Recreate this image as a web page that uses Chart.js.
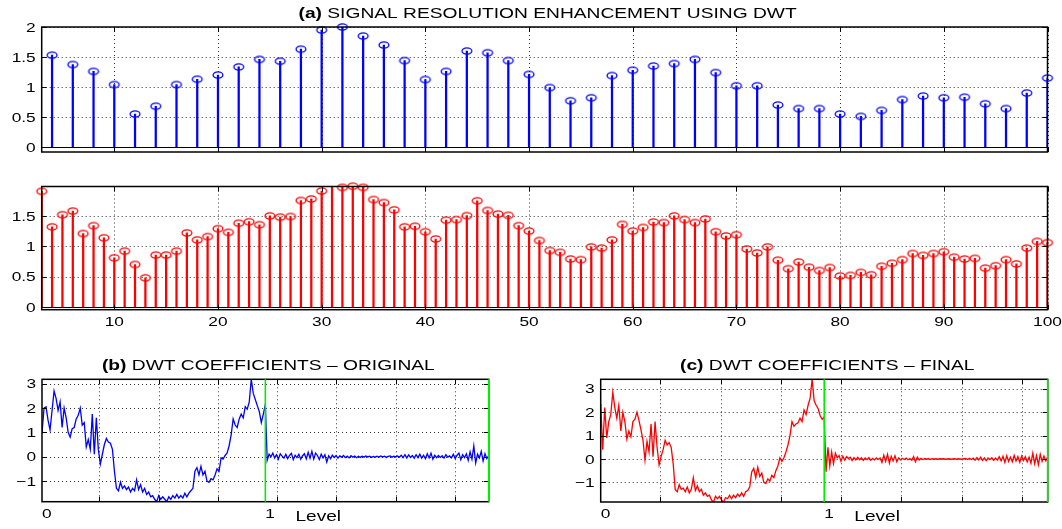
<!DOCTYPE html>
<html>
<head>
<meta charset="utf-8">
<script src="https://cdn.jsdelivr.net/npm/chart.js@4.4.1/dist/chart.umd.min.js"></script>
<style>
  html, body { margin: 0; padding: 0; background: #fff; }
  #wrap { position: relative; width: 1062px; height: 529px; }
  #wrap canvas { position: absolute; left: 0; top: 0; }
</style>
</head>
<body>
<div id="wrap">
  <canvas id="cA" width="1062" height="529"></canvas>
  <canvas id="cB" width="1062" height="529"></canvas>
  <canvas id="cC" width="1062" height="529"></canvas>
  <canvas id="cD" width="1062" height="529"></canvas>
</div>
<script>
// ---- data ----
const blueStart = 4, blueStep = 2;   // original samples at 4, 6, ... 100
const blueY = [1.53, 1.375, 1.26, 1.04, 0.55, 0.68, 1.04, 1.13, 1.2, 1.335,
  1.46, 1.43, 1.63, 1.95, 2.0, 1.85, 1.7, 1.44, 1.125, 1.26,
  1.6, 1.57, 1.44, 1.21, 0.99, 0.77, 0.82, 1.19, 1.28, 1.35,
  1.39, 1.46, 1.24, 1.02, 1.02, 0.7, 0.64, 0.64, 0.55, 0.51,
  0.61, 0.79, 0.85, 0.82, 0.83, 0.72, 0.64, 0.9, 1.15];

const redStart = 3;                  // enhanced samples at 3, 4, ... 100
const redY = [1.905, 1.32, 1.52, 1.58, 1.21, 1.34, 1.14, 0.81, 0.92, 0.70,
  0.48, 0.855, 0.855, 0.92, 1.22, 1.105, 1.16, 1.29, 1.23, 1.38,
  1.405, 1.355, 1.50, 1.48, 1.49, 1.755, 1.78, 1.91, 2.05, 1.97,
  1.99, 1.97, 1.77, 1.72, 1.60, 1.32, 1.33, 1.24, 1.12, 1.43,
  1.44, 1.505, 1.75, 1.59, 1.53, 1.51, 1.34, 1.25, 1.095, 0.93,
  0.90, 0.79, 0.78, 0.99, 0.97, 1.105, 1.36, 1.25, 1.31, 1.40,
  1.39, 1.50, 1.44, 1.39, 1.45, 1.24, 1.17, 1.19, 0.955, 0.89,
  0.99, 0.77, 0.63, 0.74, 0.655, 0.60, 0.65, 0.51, 0.52, 0.57,
  0.53, 0.67, 0.72, 0.78, 0.88, 0.85, 0.88, 0.91, 0.82, 0.79,
  0.80, 0.64, 0.68, 0.78, 0.71, 0.97, 1.08, 1.06];

// DWT coefficients, approximation part (level 0..1) and detail part (1..2)
const approxOrig = [0.95, 2.0, 2.05, 1.5, 1.1, 1.9, 2.7, 2.4, 1.9, 2.25, 1.2,
  2.0, 1.6, 1.0, 0.8, 1.15, 1.2, 1.55, 1.7, 2.0, 1.3, 1.4,
  0.4, 0.7, 0.3, 1.75, 0.1, 1.6, 0.3, -0.3, 0.1, 0.5, 0.75,
  0.6, 0.55, 0.3, -0.6, -1.3, -1.4, -1.05, -1.3, -1.2, -1.35, -1.25,
  -1.45, -1.3, -1.4, -0.95, -1.35, -1.15, -1.45, -1.3, -1.55, -1.45, -1.65,
  -1.6, -1.75, -1.85, -1.6, -1.75, -1.65, -1.75, -1.85, -1.65, -1.75, -1.6,
  -1.7, -1.55, -1.7, -1.6, -1.7, -1.5, -1.65, -1.5, -1.4, -1.3, -0.6,
  -0.45, -0.75, -0.4, -0.75, -0.6, -1.0, -1.05, -0.9, -0.95, -0.75, -0.5,
  -0.6, -0.05, -0.1, 0.05, 0.15, 0.45, 0.9, 1.55, 1.3, 1.2, 1.55,
  1.75, 1.6, 2.05, 1.95, 2.25, 3.18, 2.6, 2.35, 2.1, 1.85, 1.4, 1.75, 2.15];
const detailOrig = [-0.15, 0.1, 0.0, 0.15, -0.05, 0.08, -0.1, 0.12, 0.02, -0.06,
  0.1, -0.08, 0.05, 0.14, -0.12, 0.06, -0.04, 0.1, -0.1, 0.04,
  0.12, -0.09, 0.18, -0.06, 0.22, -0.1, 0.15, 0.05, -0.12, 0.1,
  -0.05, 0.08, -0.22, 0.04, -0.08, 0.06, -0.03, 0.05, -0.06, 0.03,
  -0.02, 0.05, -0.04, 0.02, -0.05, 0.04, -0.02, 0.03, -0.04, 0.02,
  -0.03, 0.02, -0.02, 0.03, -0.01, 0.02, -0.03, 0.01, -0.02, 0.02,
  -0.02, 0.03, -0.01, 0.02, -0.03, 0.01, 0.03, -0.02, 0.02, -0.01,
  0.03, -0.02, 0.06, -0.04, 0.08, -0.05, 0.07, -0.03, 0.05, -0.06,
  0.08, -0.04, 0.1, -0.06, 0.06, -0.08, 0.12, -0.05, 0.14, -0.1,
  0.06, -0.04, 0.05, -0.03, 0.04, -0.06, 0.08, -0.02, 0.03, -0.05,
  0.1, -0.08, 0.06, 0.15, -0.12, 0.08, -0.04, 0.12, -0.15, 0.2,
  -0.1, 0.44, -0.26, 0.1, -0.05, 0.22, -0.18, 0.12, -0.08, 0.05];

const approxFinal = [2.35, 0.4, 2.2, 0.9, 1.6, 1.9, 2.85, 2.2, 1.75, 2.3, 1.2,
  2.0, 1.6, 0.85, 1.2, 0.95, 1.6, 1.7, 2.0, 1.65, 1.25, 0.8,
  -0.05, 0.75, 0.3, 1.5, 0.1, 1.6, 0.5, -0.25, 0.1, 0.4, 0.8,
  0.6, 0.7, 0.5, -0.2, -1.3, -1.4, -1.1, -1.3, -1.25, -1.4, -1.2,
  -1.45, -1.3, -0.8, -1.35, -1.15, -1.4, -1.3, -1.55, -1.45, -1.6, -1.55,
  -1.75, -1.85, -1.6, -1.7, -1.6, -1.75, -1.85, -1.65, -1.7, -1.55, -1.7,
  -1.55, -1.65, -1.5, -1.6, -1.45, -1.6, -1.4, -1.35, -1.2, -0.55, -0.4,
  -0.8, -0.35, -0.75, -0.6, -1.0, -1.05, -0.85, -0.95, -0.7, -0.8, -0.5,
  -0.3, 0.05, -0.1, 0.05, 0.3, 0.6, 1.0, 1.6, 1.4, 1.5, 1.55,
  1.75, 1.6, 2.1, 1.9, 2.3, 2.6, 3.41, 2.5, 2.3, 2.15, 1.85, 1.7, 1.8];
const detailFinal = [-0.55, 0.5, -0.3, 0.3, -0.2, 0.25, 0.05, 0.15, -0.1, 0.12,
  -0.05, 0.1, 0.02, 0.08, -0.06, 0.06, -0.04, 0.07, -0.03, 0.05,
  -0.06, 0.04, -0.03, 0.06, -0.05, 0.03, -0.04, 0.05, -0.02, 0.04,
  -0.15, 0.16, -0.1, 0.2, -0.18, 0.12, -0.08, 0.14, -0.12, 0.05,
  -0.04, 0.03, -0.02, 0.04, -0.03, 0.02, -0.05, 0.1, -0.12, 0.08,
  -0.04, 0.03, -0.02, 0.02, -0.01, 0.02, -0.02, 0.01, -0.01, 0.01,
  -0.01, 0.01, 0.0, 0.01, -0.01, 0.0, 0.01, -0.01, 0.0, 0.01,
  -0.01, 0.01, 0.0, -0.01, 0.01, 0.02, -0.02, 0.03, -0.02, 0.04,
  -0.05, 0.06, -0.04, 0.08, -0.06, 0.05, -0.07, 0.04, -0.03, 0.05,
  -0.06, 0.04, -0.05, 0.1, -0.08, 0.12, -0.15, 0.14, -0.1, 0.08,
  -0.12, 0.15, -0.08, 0.1, -0.14, 0.12, -0.06, 0.1, -0.12, 0.08,
  -0.18, 0.25, -0.2, 0.15, -0.25, 0.2, -0.1, 0.12, -0.08, 0.1];

// ticks / labels
const stemXTicks = [10, 20, 30, 40, 50, 60, 70, 80, 90, 100];
const topYTicks = [0, 0.5, 1, 1.5, 2];
const redYTicks = [0, 0.5, 1, 1.5];
const dwtYTicks = [-1, 0, 1, 2, 3];
const dwtXLabels = [0, 1];
const gridOrig = [0.256, 0.522, 0.787, 1.052, 1.318, 1.583, 1.849];
const gridFinal = [0.265, 0.54, 0.806, 1.076, 1.345, 1.616, 1.885];
const levelBounds = [1, 2];

// ---- helpers ----
const FONT = '"Liberation Sans", Arial, Helvetica, sans-serif';
const TICK_FONT = '13px ' + FONT;

function fmt(v) {
  return v < 0 ? '\u2212' + Math.abs(v) : String(v);
}

function stretchText(ctx, text, x, y, font, sx, align) {
  ctx.save();
  ctx.font = font;
  ctx.textBaseline = 'alphabetic';
  ctx.textAlign = 'left';
  const w = ctx.measureText(text).width * sx;
  let x0 = x;
  if (align === 'center') x0 = x - w / 2;
  else if (align === 'right') x0 = x - w;
  ctx.translate(x0, y);
  ctx.scale(sx, 1);
  ctx.fillStyle = '#000';
  ctx.fillText(text, 0, 0);
  ctx.restore();
}

function ellipseMarker(color) {
  const c = document.createElement('canvas');
  c.width = 14; c.height = 10;
  const g = c.getContext('2d');
  g.strokeStyle = color;
  g.lineWidth = 1.3;
  g.beginPath();
  g.ellipse(7, 5, 4.9, 3.1, 0, 0, Math.PI * 2);
  g.stroke();
  return c;
}

// matlab style axes: dotted grid, inward ticks, box, stretched text
const matlabAxes = {
  id: 'matlab',
  beforeDatasetsDraw(chart, args, o) {
    const { ctx, chartArea: a, scales: { x, y } } = chart;
    ctx.save();
    ctx.strokeStyle = '#333';
    ctx.lineWidth = 1;
    ctx.setLineDash([1, 3]);
    (o.xGrid || []).forEach(v => {
      const px = Math.round(x.getPixelForValue(v)) + 0.5;
      ctx.beginPath(); ctx.moveTo(px, a.top); ctx.lineTo(px, a.bottom); ctx.stroke();
    });
    (o.yGrid || []).forEach(v => {
      const py = Math.round(y.getPixelForValue(v)) + 0.5;
      ctx.beginPath(); ctx.moveTo(a.left, py); ctx.lineTo(a.right, py); ctx.stroke();
    });
    ctx.restore();
  },
  afterDatasetsDraw(chart, args, o) {
    if (!o.baseline) return;
    const { ctx, chartArea: a, scales: { y } } = chart;
    const py = Math.round(y.getPixelForValue(0)) + 0.5;
    ctx.save();
    ctx.strokeStyle = '#000';
    ctx.lineWidth = 1;
    ctx.beginPath(); ctx.moveTo(a.left, py); ctx.lineTo(a.right, py); ctx.stroke();
    ctx.restore();
  },
  afterDraw(chart, args, o) {
    const { ctx, chartArea: a, scales: { x, y } } = chart;
    ctx.save();
    ctx.strokeStyle = '#000';
    ctx.lineWidth = 1;
    const tl = 5;
    (o.xGrid || []).forEach(v => {
      const px = Math.round(x.getPixelForValue(v)) + 0.5;
      ctx.beginPath();
      ctx.moveTo(px, a.bottom); ctx.lineTo(px, a.bottom - tl);
      ctx.moveTo(px, a.top); ctx.lineTo(px, a.top + tl);
      ctx.stroke();
    });
    (o.yGrid || []).forEach(v => {
      const py = Math.round(y.getPixelForValue(v)) + 0.5;
      ctx.beginPath();
      ctx.moveTo(a.left, py); ctx.lineTo(a.left + tl, py);
      ctx.moveTo(a.right, py); ctx.lineTo(a.right - tl, py);
      ctx.stroke();
    });
    ctx.lineWidth = 1.5;
    ctx.strokeRect(a.left, a.top, a.right - a.left, a.bottom - a.top);

    (o.levels || []).forEach(v => {
      const px = x.getPixelForValue(v);
      ctx.strokeStyle = '#00ee00';
      ctx.lineWidth = 1.6;
      ctx.beginPath(); ctx.moveTo(px, a.top); ctx.lineTo(px, a.bottom); ctx.stroke();
    });

    (o.yLabels || []).forEach(v => {
      stretchText(ctx, fmt(v), a.left - 6, y.getPixelForValue(v) + 4.6, TICK_FONT, 1.33, 'right');
    });
    (o.xLabels || []).forEach(v => {
      stretchText(ctx, fmt(v), x.getPixelForValue(v), a.bottom + 16, TICK_FONT, 1.33, o.xLabelAlign || 'center');
    });

    if (o.title) {
      const sx = 1.28;
      const bold = 'bold 15px ' + FONT, norm = '15px ' + FONT;
      ctx.font = bold;
      const w1 = ctx.measureText(o.title[0] + ' ').width * sx;
      ctx.font = norm;
      const w2 = ctx.measureText(o.title[1]).width * sx;
      const cx = (a.left + a.right) / 2 + (o.titleDx || 0);
      const x0 = cx - (w1 + w2) / 2;
      const by = a.top - 9.5;
      stretchText(ctx, o.title[0] + ' ', x0, by, bold, sx, 'left');
      stretchText(ctx, o.title[1], x0 + w1, by, norm, sx, 'left');
    }
    if (o.xTitle) {
      stretchText(ctx, o.xTitle, x.getPixelForValue(o.xTitleAt), a.bottom + 19, '14px ' + FONT, 1.36, 'left');
    }
    ctx.restore();
  }
};
Chart.register(matlabAxes);

function baseOptions(pad, xr, yr, m) {
  return {
    responsive: false,
    animation: false,
    events: [],
    layout: { padding: pad },
    plugins: { legend: { display: false }, tooltip: { enabled: false }, matlab: m },
    scales: {
      x: { type: 'linear', min: xr[0], max: xr[1], display: false, offset: false, grid: { offset: false } },
      y: { type: 'linear', min: yr[0], max: yr[1], display: false }
    }
  };
}

// ---- (a) original samples, blue stems ----
const bluePts = blueY.map((v, i) => ({ x: blueStart + i * blueStep, y: v }));
new Chart(document.getElementById('cA'), {
  type: 'bar',
  data: {
    datasets: [
      { type: 'bar', data: bluePts, backgroundColor: '#0000ff', borderWidth: 0,
        barThickness: 1.6, grouped: false, clip: 0, order: 2 },
      { type: 'scatter', data: bluePts, pointStyle: ellipseMarker('#0000ff'),
        pointRadius: 4, clip: false, order: 1 }
    ]
  },
  options: baseOptions({ left: 41.7, top: 27, right: 14.5, bottom: 377 }, [3, 100], [-0.083, 2], {
    xGrid: stemXTicks, yGrid: topYTicks, yLabels: topYTicks, baseline: true,
    title: ['(a)', 'SIGNAL RESOLUTION ENHANCEMENT USING DWT'], titleDx: 3
  })
});

// ---- enhanced samples, red stems ----
const redMax = 1.985;
const redPts = redY.map((v, i) => ({ x: redStart + i, y: v }));
new Chart(document.getElementById('cB'), {
  type: 'bar',
  data: {
    datasets: [
      { type: 'bar', data: redPts, backgroundColor: '#ff0000', borderWidth: 0,
        barThickness: 1.6, grouped: false, clip: 0, order: 2 },
      { type: 'scatter', data: redPts, pointStyle: ellipseMarker('#ff0000'),
        pointRadius: c => (c.raw && c.raw.y > 2.0 ? 0 : 4), clip: false, order: 1 }
    ]
  },
  options: baseOptions({ left: 41.7, top: 186.5, right: 14.5, bottom: 219.3 }, [3, 100], [-0.045, redMax], {
    xGrid: stemXTicks, yGrid: redYTicks, yLabels: redYTicks, xLabels: stemXTicks, baseline: true
  })
});

// ---- DWT coefficient panels ----
function coeffPoints(approx, detail) {
  const pts = approx.map((v, i) => ({ x: i / (approx.length - 1), y: v }));
  detail.forEach((v, j) => pts.push({ x: 1 + (j + 1) / detail.length, y: v }));
  return pts;
}

function coeffChart(id, pts, color, pad, yr, grid, title) {
  new Chart(document.getElementById(id), {
    type: 'line',
    data: {
      datasets: [{ data: pts, borderColor: color, borderWidth: 1.3, pointRadius: 0, tension: 0, fill: false }]
    },
    options: baseOptions(pad, [0, 2], yr, {
      xGrid: grid, yGrid: dwtYTicks, yLabels: dwtYTicks, xLabels: dwtXLabels, xLabelAlign: 'left',
      levels: levelBounds, title: title, titleDx: 3, xTitle: 'Level', xTitleAt: 1.135
    })
  });
}

coeffChart('cC', coeffPoints(approxOrig, detailOrig), '#0000ff',
  { left: 42, top: 379.3, right: 573.3, bottom: 27.3 }, [-1.85, 3.18], gridOrig,
  ['(b)', 'DWT COEFFICIENTS \u2013 ORIGINAL']);
coeffChart('cD', coeffPoints(approxFinal, detailFinal), '#ff0000',
  { left: 600.7, top: 379.3, right: 14.3, bottom: 27 }, [-1.84, 3.41], gridFinal,
  ['(c)', 'DWT COEFFICIENTS \u2013 FINAL']);
</script>
</body>
</html>
